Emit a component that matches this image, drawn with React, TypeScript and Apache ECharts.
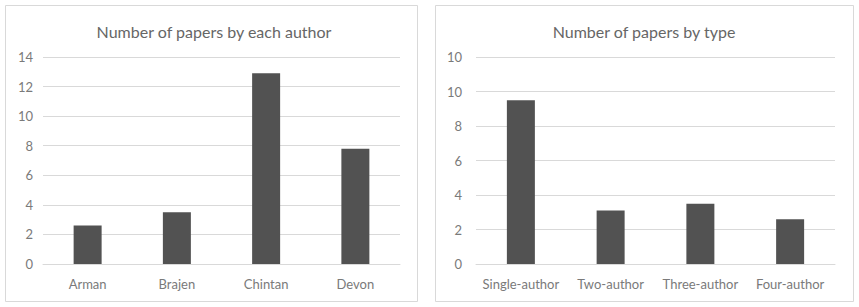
import React, { useEffect, useRef } from "react";
import * as echarts from "echarts";

const authorCategories = ["Arman", "Brajen", "Chintan", "Devon"];
const authorValues = [2.6, 3.5, 12.9, 7.8];

const typeCategories = ["Single-author", "Two-author", "Three-author", "Four-author"];
const typeValues = [9.5, 3.1, 3.5, 2.6];
const typeTickLabels = ["0", "2", "4", "6", "8", "10", "10"];

const FONT = "Lato";
const GRID = "#d9d9d9";
const LABEL = "#7a7a7a";
const BAR = "#525252";

export default function App() {
  const ref = useRef<HTMLDivElement>(null);
  useEffect(() => {
    if (!ref.current) return;
    const chart = echarts.init(ref.current, undefined, { renderer: "svg" });
    const axisLabel = { color: LABEL, fontFamily: FONT, fontSize: 13 };
    chart.setOption({
      animation: false,
      backgroundColor: "#ffffff",
      graphic: [
        { type: "rect", shape: { x: 5.5, y: 5.5, width: 412, height: 296 }, style: { fill: "none", stroke: GRID, lineWidth: 1 } },
        { type: "rect", shape: { x: 435.5, y: 5.5, width: 418, height: 296 }, style: { fill: "none", stroke: GRID, lineWidth: 1 } },
      ],
      title: [
        { text: "Number of papers by each author", left: 209, top: 18, textAlign: "center", textStyle: { color: "#666666", fontFamily: FONT, fontSize: 16, fontWeight: "normal" } },
        { text: "Number of papers by type", left: 639, top: 18, textAlign: "center", textStyle: { color: "#666666", fontFamily: FONT, fontSize: 16, fontWeight: "normal" } },
      ],
      grid: [
        { left: 43, right: 459, top: 57, bottom: 43 },
        { left: 476, right: 24, top: 57, bottom: 43 },
      ],
      xAxis: [
        { type: "category", gridIndex: 0, data: authorCategories, axisTick: { show: false }, axisLine: { lineStyle: { color: GRID } }, axisLabel: { ...axisLabel, margin: 13, interval: 0 } },
        { type: "category", gridIndex: 1, data: typeCategories, axisTick: { show: false }, axisLine: { lineStyle: { color: GRID } }, axisLabel: { ...axisLabel, margin: 13, interval: 0 } },
      ],
      yAxis: [
        { type: "value", gridIndex: 0, min: 0, max: 14, interval: 2, axisLine: { show: false }, axisTick: { show: false }, splitLine: { lineStyle: { color: GRID } }, axisLabel: { ...axisLabel, margin: 10 } },
        {
          type: "value", gridIndex: 1, min: 0, max: 12, interval: 2, axisLine: { show: false }, axisTick: { show: false }, splitLine: { lineStyle: { color: GRID } },
          axisLabel: { ...axisLabel, margin: 14, formatter: (v: number) => typeTickLabels[Math.round(v / 2)] ?? String(v) },
        },
      ],
      series: [
        { type: "bar", xAxisIndex: 0, yAxisIndex: 0, data: authorValues, barWidth: 28, itemStyle: { color: BAR } },
        { type: "bar", xAxisIndex: 1, yAxisIndex: 1, data: typeValues, barWidth: 28, itemStyle: { color: BAR } },
      ],
    });
    return () => chart.dispose();
  }, []);
  return <div ref={ref} style={{ position: "absolute", left: 0, top: 0, width: 859, height: 307 }} />;
}
